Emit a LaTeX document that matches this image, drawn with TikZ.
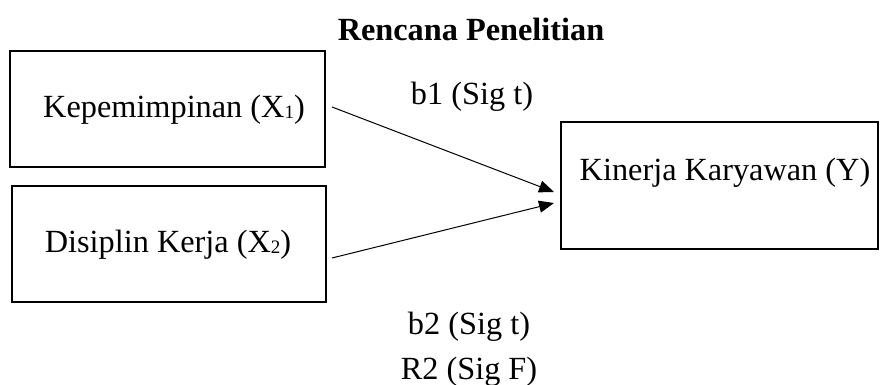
\documentclass[tikz,border=0pt]{standalone}
\usepackage{fontspec}
\setmainfont{Liberation Serif}
\usetikzlibrary{arrows.meta}
\newcommand{\lowidx}[1]{\raisebox{-0.5pt}{\fontsize{19}{20}\selectfont #1}}
\begin{document}
\begin{tikzpicture}[x=1pt,y=-1pt,
  varbox/.style={draw=black,line width=2pt},
  lbl/.style={font=\fontsize{32.3}{36}\selectfont,inner sep=0pt},
  link/.style={line width=1pt,-{Triangle[length=15pt,width=12pt]}}]
\useasboundingbox (0,0) rectangle (880,385);
% variable boxes
\draw[varbox] (10,51) rectangle (325,167);
\draw[varbox] (12,186) rectangle (326,302);
\draw[varbox] (561,122) rectangle (878,249);
\node[lbl] (x1) at (174,110) {Kepemimpinan (X\lowidx{1})};
\node[lbl] (x2) at (168,245) {Disiplin Kerja (X\lowidx{2})};
\node[lbl] (y) at (725,173) {Kinerja Karyawan (Y)};
% title and coefficient labels
\node[lbl,font=\fontsize{32.3}{36}\selectfont\bfseries] (title) at (471,29) {Rencana Penelitian};
\node[lbl] (b1) at (472,97) {b1 (Sig t)};
\node[lbl] (b2) at (469,327) {b2 (Sig t)};
\node[lbl] (r2) at (469,372) {R2 (Sig F)};
% arrows
\coordinate (s1) at (332,107);
\coordinate (s2) at (332,258);
\coordinate (e1) at (554,192);
\coordinate (e2) at (554,203);
\draw[link] (s1) -- (e1);
\draw[link] (s2) -- (e2);
\end{tikzpicture}
\end{document}
